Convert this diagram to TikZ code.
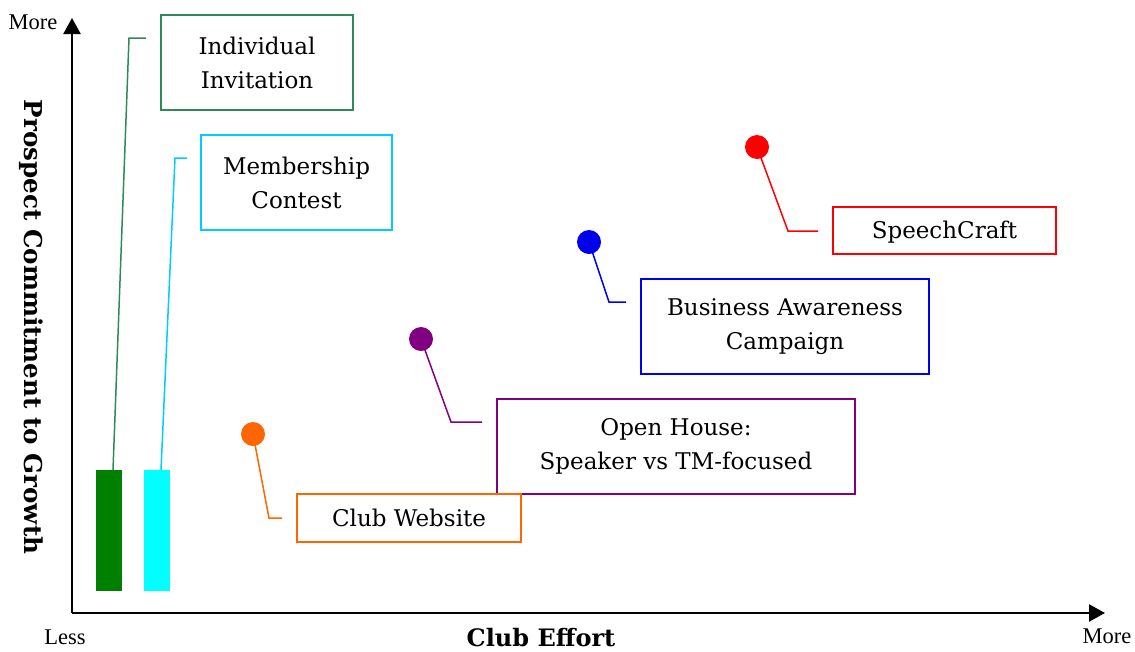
\documentclass[tikz,border=0pt]{standalone}
\usepackage{fontspec}
\setmainfont{DejaVu Serif}
\newfontfamily\timesfont{Liberation Serif}
\usetikzlibrary{arrows.meta}
\definecolor{cGreenLine}{RGB}{46,139,87}
\definecolor{cGreenBar}{RGB}{0,128,0}
\definecolor{cCyanLine}{RGB}{0,204,255}
\definecolor{cCyanBar}{RGB}{0,255,255}
\definecolor{cRed}{RGB}{255,0,0}
\definecolor{cBlue}{RGB}{0,0,240}
\definecolor{cPurple}{RGB}{128,0,128}
\definecolor{cOrange}{RGB}{255,102,0}
\tikzset{
  labelbox/.style={draw=#1, line width=1.6pt, fill=white, inner sep=0pt, align=center,
    font=\fontsize{23}{34}\selectfont},
  leader/.style={draw=#1, line width=1.5pt},
  dotmark/.style={circle, fill=#1, minimum size=24pt, inner sep=0pt},
  axis/.style={line width=2.4pt, -{Triangle[length=16pt,width=17pt]}},
  small/.style={font=\timesfont\fontsize{22.5}{24}\selectfont, inner sep=0pt},
  bar/.style={fill=#1, draw=none},
}
\begin{document}
\begin{tikzpicture}[x=1pt,y=-1pt]
\useasboundingbox (0,0) rectangle (1135,651);
% axes
\coordinate (O) at (72,613);
\coordinate (ytip) at (72,18);
\coordinate (xtip) at (1105,613);
\draw[axis] (O) -- (ytip);
\draw[axis] (O) -- (xtip);
\node[small] (moreY) at (33,22) {More};
\node[small] (lessX) at (65,637) {Less};
\node[small] (moreX) at (1107,636) {More};
\node[font=\bfseries\fontsize{24}{26}\selectfont, inner sep=0pt] (xlabel) at (541,638) {Club Effort};
\node[font=\bfseries\fontsize{24.6}{28}\selectfont, inner sep=0pt, rotate=-90] (ylabel) at (31,327) {Prospect Commitment to Growth};
% bars
\fill[bar=cGreenBar] (96,470) rectangle (122,591);
\fill[bar=cCyanBar] (144,470) rectangle (170,591);
\coordinate (gbar) at (113,470);
\coordinate (cbar) at (161,470);
% boxes
\node[labelbox=cGreenLine, minimum width=192pt, minimum height=95pt] (indiv) at (257,62.5) {Individual\\Invitation};
\node[labelbox=cCyanLine, minimum width=191pt, minimum height=95pt] (member) at (296.5,182.5) {Membership\\Contest};
\node[labelbox=cRed, minimum width=223pt, minimum height=47pt, text depth=1pt] (speech) at (944.5,230.5) {SpeechCraft};
\node[labelbox=cBlue, minimum width=288pt, minimum height=95pt] (business) at (785,326.5) {Business Awareness\\Campaign};
\node[labelbox=cPurple, minimum width=358pt, minimum height=95pt] (openhouse) at (676,446.5) {Open House:\\Speaker vs TM-focused};
\node[labelbox=cOrange, minimum width=224pt, minimum height=48pt, text depth=1pt] (website) at (409,518) {Club Website};
% dots
\node[dotmark=cRed] (dRed) at (757,147) {};
\node[dotmark=cBlue] (dBlue) at (589,242) {};
\node[dotmark=cPurple] (dPurple) at (421,339) {};
\node[dotmark=cOrange] (dOrange) at (253,434) {};
% leader bends and ends
\coordinate (bRed) at (788,231);  \coordinate (eRed) at (818,231);
\coordinate (bBlue) at (609,302); \coordinate (eBlue) at (626,302);
\coordinate (bPurple) at (451,422); \coordinate (ePurple) at (482,422);
\coordinate (bOrange) at (269,518); \coordinate (eOrange) at (282,518);
\coordinate (bGreen) at (129,38); \coordinate (eGreen) at (146,38);
\coordinate (bCyan) at (175,158); \coordinate (eCyan) at (187,158);
\draw[leader=cRed] (dRed.center) -- (bRed) -- (eRed);
\draw[leader=cBlue] (dBlue.center) -- (bBlue) -- (eBlue);
\draw[leader=cPurple] (dPurple.center) -- (bPurple) -- (ePurple);
\draw[leader=cOrange] (dOrange.center) -- (bOrange) -- (eOrange);
\draw[leader=cGreenLine] (gbar) -- (bGreen) -- (eGreen);
\draw[leader=cCyanLine] (cbar) -- (bCyan) -- (eCyan);
\end{tikzpicture}
\end{document}
